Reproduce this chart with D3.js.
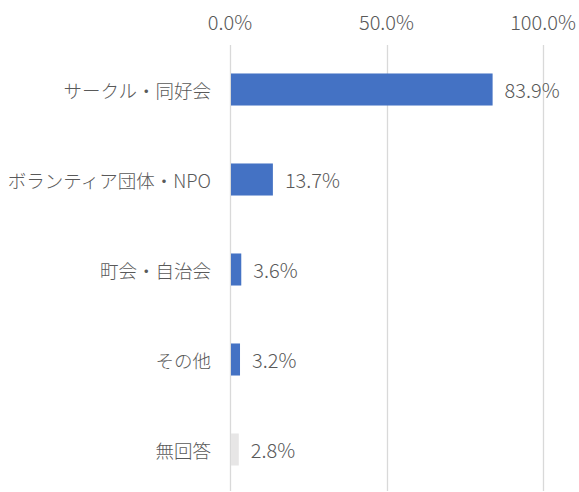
<!DOCTYPE html>
<html>
<head>
<meta charset="utf-8">
<script src="https://cdn.jsdelivr.net/npm/d3@7"></script>
<style>
  body { margin: 0; background: #fff; }
  svg { display: block; }
  text { font-family: "Noto Sans CJK JP", "Noto Sans", sans-serif; fill: #595959; font-weight: 300; }
</style>
</head>
<body>
<div id="chart"></div>
<script>
// --- Datos ---
const categories = ["サークル・同好会", "ボランティア団体・NPO", "町会・自治会", "その他", "無回答"];
const values = [83.9, 13.7, 3.6, 3.2, 2.8];
const barColors = ["#4472C4", "#4472C4", "#4472C4", "#4472C4", "#E7E6E6"];
const tickValues = [0, 50, 100];

const width = 579, height = 492;
const plot = { left: 230, right: 543, top: 44.5, bottom: 494.5 };

const svg = d3.select("#chart").append("svg")
    .attr("width", width)
    .attr("height", height);

const x = d3.scaleLinear().domain([0, 100]).range([plot.left, plot.right]);
const y = d3.scaleBand().domain(categories)
    .range([plot.top, plot.bottom])
    .paddingInner(0.644)
    .paddingOuter(0.322);

// --- Líneas de cuadrícula ---
svg.append("g")
    .selectAll("line")
    .data(tickValues)
    .enter().append("line")
    .attr("x1", d => Math.round(x(d)) + 0.5)
    .attr("x2", d => Math.round(x(d)) + 0.5)
    .attr("y1", 45)
    .attr("y2", 491)
    .style("stroke", "#d9d9d9")
    .style("stroke-width", "1.3px");

// --- Eje superior ---
svg.append("g")
    .selectAll("text")
    .data(tickValues)
    .enter().append("text")
    .attr("x", d => x(d))
    .attr("y", 21)
    .attr("text-anchor", "middle")
    .attr("dominant-baseline", "central")
    .style("font-size", "20px")
    .text(d => d.toFixed(1) + "%");

// --- Barras ---
svg.append("g")
    .selectAll("rect")
    .data(values)
    .enter().append("rect")
    .attr("x", x(0) + 1)
    .attr("y", (d, i) => y(categories[i]))
    .attr("width", d => x(d) - x(0) - 1)
    .attr("height", y.bandwidth())
    .style("fill", (d, i) => barColors[i]);

// --- Etiquetas de valores ---
svg.append("g")
    .selectAll("text")
    .data(values)
    .enter().append("text")
    .attr("x", d => x(d) + 12)
    .attr("y", (d, i) => y(categories[i]) + y.bandwidth() / 2)
    .attr("dominant-baseline", "central")
    .style("font-size", "20px")
    .text(d => d.toFixed(1) + "%");

// --- Etiquetas de categorías ---
svg.append("g")
    .selectAll("text")
    .data(categories)
    .enter().append("text")
    .attr("x", 211)
    .attr("y", d => y(d) + y.bandwidth() / 2)
    .attr("text-anchor", "end")
    .attr("dominant-baseline", "central")
    .style("font-size", "18.5px")
    .text(d => d);
</script>
</body>
</html>
